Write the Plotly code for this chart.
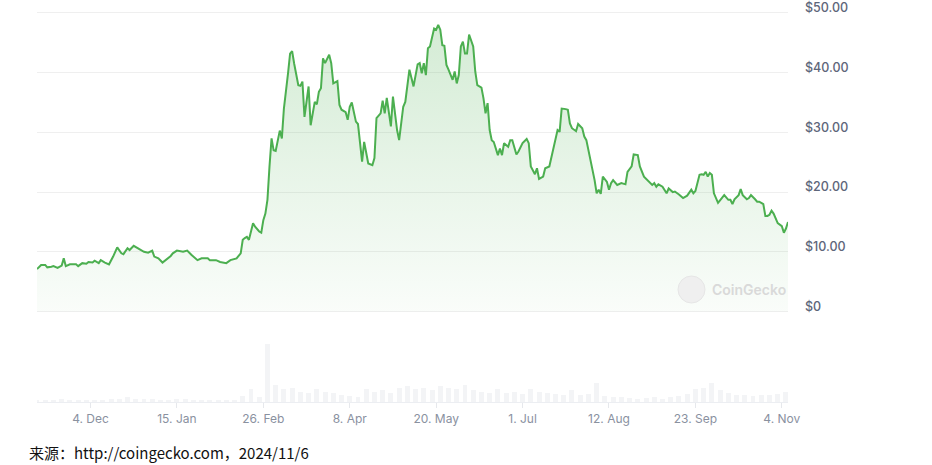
import pandas as pd
import plotly.graph_objects as go

# ---------------- data ----------------
base_date = pd.Timestamp("2023-12-04")
day_offsets = [
    -26, -24, -22, -21, -19, -18, -16, -14, -13, -12, -10, -7, -6, -4, -2, -1,
    1, 2, 4, 5, 7, 9, 11, 13, 15, 16, 18, 19, 21, 23, 26, 28, 30, 31, 33, 35,
    37, 39, 40, 42, 45, 47, 49, 50, 52, 54, 57, 58, 61, 63, 66, 68, 71, 73,
    74, 75, 76, 77, 79, 80, 82, 83, 84, 85, 86, 87, 88, 89, 90, 92, 93, 94,
    95, 96, 97, 98, 99, 100, 101, 102, 103, 104, 106, 107, 109, 110, 111, 112,
    113, 114, 116, 117, 118, 120, 121, 122, 124, 125, 126, 127, 129, 130, 132,
    133, 135, 137, 138, 139, 141, 142, 143, 144, 146, 147, 149, 150, 152, 153,
    155, 156, 157, 159, 160, 161, 162, 163, 164, 165, 167, 168, 169, 170, 171,
    172, 173, 174, 176, 177, 178, 179, 180, 181, 182, 183, 184, 186, 187, 188,
    190, 191, 192, 193, 194, 195, 196, 198, 199, 200, 201, 203, 204, 205, 207,
    208, 210, 212, 213, 214, 216, 217, 218, 220, 221, 223, 224, 226, 227, 228,
    229, 231, 232, 233, 234, 236, 237, 239, 240, 241, 243, 245, 246, 247, 248,
    249, 251, 252, 253, 254, 256, 258, 260, 261, 263, 264, 266, 267, 269, 271,
    273, 274, 275, 276, 278, 280, 281, 283, 284, 286, 288, 290, 292, 293, 294,
    296, 297, 298, 299, 300, 301, 302, 303, 305, 306, 307, 308, 310, 311, 312,
    313, 315, 316, 317, 319, 320, 321, 323, 324, 325, 327, 328, 329, 330, 331,
    332, 333, 334, 336, 337, 338, 339,
]
prices = [
    7.1, 7.8, 7.8, 7.4, 7.5, 7.6, 7.3, 7.7, 8.9, 7.6, 7.9, 7.9, 7.6, 8.1, 8.0, 8.3,
    8.2, 8.5, 8.1, 8.6, 8.2, 7.9, 9.2, 10.75, 9.75, 9.6, 10.6, 10.3, 11.0, 10.6, 10.0, 9.85, 10.2, 9.2, 8.9, 8.2,
    8.75, 9.3, 9.75, 10.2, 10.0, 10.2, 9.5, 9.2, 8.6, 8.9, 8.9, 8.6, 8.6, 8.3, 8.1, 8.6, 8.9, 9.75,
    12.0, 12.3, 12.5, 12.0, 14.8, 14.2, 13.4, 13.2, 15.3, 16.4, 18.7, 24.3, 29.0, 27.0, 26.9, 30.3, 29.0, 34.0,
    36.5, 39.9, 43.2, 43.6, 41.5, 39.6, 37.9, 37.8, 38.5, 32.6, 37.7, 31.2, 35.1, 34.7, 36.8, 37.4,
    42.4, 41.6, 43.0, 41.6, 38.2, 38.6, 34.6, 33.8, 33.4, 32.1, 34.3, 35.0, 31.8, 31.4, 25.1,
    28.4, 24.8, 24.5, 25.7, 32.4, 33.2, 35.3, 33.2, 35.8, 31.0, 36.0, 30.4, 28.7, 34.3, 35.1,
    40.5, 39.1, 37.7, 41.4, 41.6, 39.9, 41.6, 39.6, 44.1, 44.4, 47.4, 47.2, 48.0, 47.2, 44.6,
    44.5, 41.3, 40.5, 38.8, 40.2, 38.2, 39.6, 44.4, 45.2, 43.2, 43.2, 46.4, 44.4, 40.2, 37.9,
    37.5, 35.7, 33.2, 34.9, 30.4, 28.7, 28.4, 26.2, 27.3, 26.2, 28.2, 27.6, 28.7, 28.7, 26.3,
    26.8, 28.2, 28.9, 28.2, 24.3, 23.0, 24.0, 22.2, 22.6, 24.0, 24.3, 25.7, 29.0, 30.4, 30.1,
    34.0, 33.9, 33.8, 31.5, 30.7, 30.2, 31.4, 30.7, 29.3, 28.7, 25.4, 22.0, 19.8, 20.4, 19.7,
    22.6, 21.7, 20.4, 21.5, 22.0, 21.2, 21.5, 21.3, 23.4, 24.3, 26.3, 26.2, 24.3, 22.6, 21.9,
    21.2, 21.5, 20.9, 21.3, 20.9, 19.8, 20.6, 20.0, 20.1, 19.6, 19.0, 19.4, 20.4, 19.8, 20.2,
    22.9, 23.0, 22.9, 23.4, 22.6, 23.2, 22.9, 19.8, 18.2, 18.7, 19.2, 19.5, 18.7, 18.7, 18.0,
    18.8, 19.5, 20.5, 19.5, 18.8, 19.0, 19.5, 18.8, 18.4, 18.4, 18.0, 16.0, 16.0, 16.2, 16.9,
    16.4, 15.6, 14.8, 14.3, 13.2, 13.9, 15.0,
]

# trading volume (relative, max = 100), one value every 4 days from 2023-11-08
volume_start = "2023-11-08"
volume = [
    3, 4, 3, 5, 3, 3, 3, 4, 4, 5, 6, 8, 5, 6, 5, 4, 4, 5, 5, 4, 4, 4, 3, 3, 4,
    10, 22, 8, 100, 30, 22, 25, 18, 15, 22, 18, 15, 12, 10, 8, 22, 18, 20, 15, 25,
    28, 22, 25, 20, 28, 25, 22, 30, 20, 18, 15, 22, 15, 18, 14, 22, 18, 16, 14, 12,
    20, 12, 14, 32, 10, 8, 8, 7, 6, 7, 8, 6, 8, 10, 14, 22, 25, 32, 20, 15, 12,
    12, 10, 12, 12, 14, 18,
]

tick_dates = ["2023-12-04", "2024-01-15", "2024-02-26", "2024-04-08", "2024-05-20",
              "2024-07-01", "2024-08-12", "2024-09-23", "2024-11-04"]
tick_labels = ["4. Dec", "15. Jan", "26. Feb", "8. Apr", "20. May",
               "1. Jul", "12. Aug", "23. Sep", "4. Nov"]
price_ticks = [0, 10, 20, 30, 40, 50]
price_tick_labels = ["$0", "$10.00", "$20.00", "$30.00", "$40.00", "$50.00"]

source_text = "来源：http://coingecko.com，2024/11/6"

# ---------------- figure ----------------
dates = base_date + pd.to_timedelta(day_offsets, unit="D")
vol_dates = pd.date_range(volume_start, periods=len(volume), freq="4D")

GREEN = "#4caf50"
PLOT_H = 391  # plot-area height in px (465 - 11 - 63)
BOTTOM = 402  # pixel row of the plot-area bottom


def py(px):
    """paper y fraction for a pixel row (used only for decorations/domains)"""
    return (BOTTOM - px) / PLOT_H


def pxx(px):
    return (px - 37) / 751


fig = go.Figure()
fig.add_trace(go.Bar(
    x=vol_dates, y=volume, xaxis="x", yaxis="y2",
    marker=dict(color="#f3f4f6", line=dict(width=0)),
    width=4 * 86400000 * 0.6, hoverinfo="skip", showlegend=False,
))
fig.add_trace(go.Scatter(
    x=dates, y=prices, xaxis="x", yaxis="y",
    mode="lines", line=dict(color=GREEN, width=2),
    fill="tozeroy",
    fillgradient=dict(type="vertical", start=0, stop=48,
                      colorscale=[[0, "rgba(76,175,80,0.03)"],
                                  [1, "rgba(76,175,80,0.24)"]]),
    showlegend=False,
))

fig.update_layout(
    width=932, height=465,
    margin=dict(l=37, r=144, t=11, b=63, autoexpand=False),
    paper_bgcolor="white", plot_bgcolor="white",
    bargap=0,
    xaxis=dict(
        anchor="y2", range=[dates[0], dates[-1]], automargin=False,
        tickvals=pd.to_datetime(tick_dates), ticktext=tick_labels,
        showgrid=False, zeroline=False,
        showline=True, linecolor="#eceef2", linewidth=1,
        ticks="outside", ticklen=5, tickcolor="#e6e8ec",
        tickfont=dict(family="Inter", size=12, color="#8a919f"),
        ticklabelstandoff=1,
    ),
    yaxis=dict(
        domain=[py(313.0), py(11.5)], range=[-0.25, 50.25], side="right", anchor="x",
        automargin=False, ticklabeloverflow="allow",
        tickvals=price_ticks, ticktext=price_tick_labels,
        showgrid=True, gridcolor="#efefef", gridwidth=1,
        zeroline=False, showline=False, ticks="",
        tickfont=dict(family="Inter", size=12.5, color="#5e667a", weight=500),
        ticklabelstandoff=16, ticklabelshift=-5,
    ),
    yaxis2=dict(
        domain=[0, py(344)], range=[0, 100], anchor="x",
        visible=False,
    ),
    shapes=[dict(
        type="circle", xref="paper", yref="paper",
        x0=pxx(678), x1=pxx(705), y0=py(303), y1=py(276),
        fillcolor="#efefef", line=dict(color="#e6e6e6", width=1), layer="above",
    )],
    annotations=[
        dict(text="CoinGecko", xref="paper", yref="paper",
             x=pxx(710), y=py(289),
             xanchor="left", yanchor="middle", showarrow=False,
             font=dict(family="Inter", size=14, color="#d9d9d9", weight=600)),
        dict(text=source_text, xref="paper", yref="paper",
             x=pxx(27), y=py(452),
             xanchor="left", yanchor="middle", showarrow=False,
             font=dict(family="Noto Sans CJK SC", size=15, color="#111111")),
    ],
)

fig.write_html("out.html",
               config={"displayModeBar": False},
               post_script="document.body.style.margin='0';document.body.style.overflow='hidden';")
